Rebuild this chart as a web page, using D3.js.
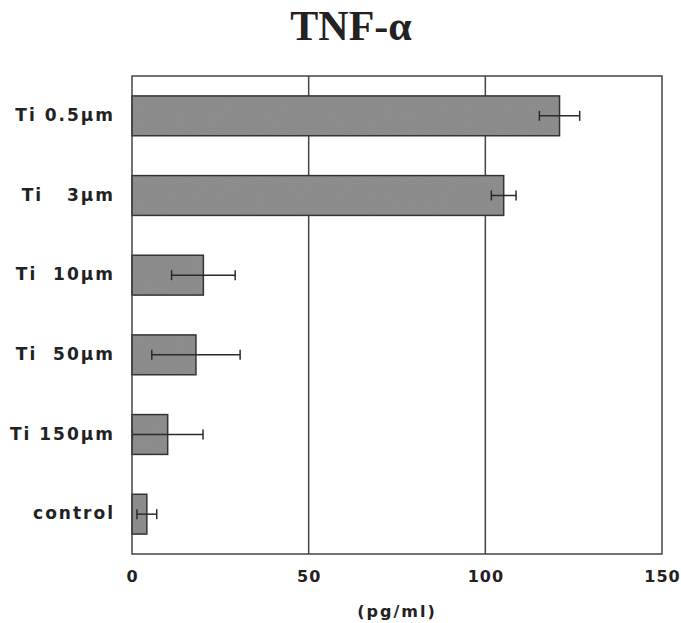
<!DOCTYPE html>
<html lang="en">

<head>
    <meta charset="utf-8">
    <title>TNF-alpha</title>
    <script type="text/javascript" src="https://cdn.jsdelivr.net/npm/d3@7"></script>
    <style>
        body { margin: 0; background: #fff; }
    </style>
</head>

<body>

    <script type="text/javascript">
        // values (pg/ml)
        var categories = ["Ti 0.5\u03bcm", "Ti   3\u03bcm", "Ti  10\u03bcm", "Ti  50\u03bcm", "Ti 150\u03bcm", "control"];
        var means = [121, 105.2, 20.2, 18.1, 10.1, 4.2];
        var errors = [5.7, 3.5, 9, 12.5, 10, 2.8];
        var ticks = [0, 50, 100, 150];

        var w = 681;
        var h = 623;
        var plotL = 132, plotR = 662, plotT = 76, plotB = 554;

        var data = categories.map(function(c, i) {
            return { cat: c, v: means[i], e: errors[i] };
        });

        var svg = d3.select("body")
            .append("svg")
            .attr("width", w)
            .attr("height", h);

        // speckled grey like the printed bars
        var defs = svg.append("defs");
        var f = defs.append("filter").attr("id", "speckle")
            .attr("x", 0).attr("y", 0).attr("width", 1).attr("height", 1);
        f.append("feTurbulence")
            .attr("type", "fractalNoise")
            .attr("baseFrequency", 0.9)
            .attr("numOctaves", 2)
            .attr("result", "noise");
        f.append("feColorMatrix")
            .attr("in", "noise")
            .attr("type", "matrix")
            .attr("values", "0 0 0 0 0.3  0 0 0 0 0.3  0 0 0 0 0.3  0.9 0 0 0 -0.3")
            .attr("result", "dots");
        f.append("feComposite")
            .attr("in", "dots")
            .attr("in2", "SourceGraphic")
            .attr("operator", "atop");

        var x = d3.scaleLinear().domain([0, 150]).range([plotL, plotR]);
        var y = d3.scaleBand().domain(categories).range([plotT, plotB])
            .paddingInner(0.5).paddingOuter(0.25);

        // title
        svg.append("text")
            .attr("x", 351)
            .attr("y", 40)
            .attr("text-anchor", "middle")
            .attr("font-family", "'Liberation Serif', 'Times New Roman', serif")
            .attr("font-weight", "bold")
            .attr("font-size", "42px")
            .attr("fill", "#222")
            .text("TNF-\u03b1");

        // vertical grid lines at 50 and 100
        svg.selectAll("line.grid")
            .data(ticks.slice(1, 3))
            .enter()
            .append("line")
            .attr("class", "grid")
            .attr("x1", function(d) { return x(d); })
            .attr("x2", function(d) { return x(d); })
            .attr("y1", plotT)
            .attr("y2", plotB)
            .attr("stroke", "#444")
            .attr("stroke-width", 1.5);

        // bars
        svg.selectAll("rect.bar")
            .data(data)
            .enter()
            .append("rect")
            .attr("class", "bar")
            .attr("x", x(0))
            .attr("y", function(d) { return y(d.cat); })
            .attr("width", function(d) { return x(d.v) - x(0); })
            .attr("height", y.bandwidth())
            .attr("fill", "#8a8a8a")
            .attr("filter", "url(#speckle)");

        svg.selectAll("rect.barline")
            .data(data)
            .enter()
            .append("rect")
            .attr("class", "barline")
            .attr("x", x(0))
            .attr("y", function(d) { return y(d.cat); })
            .attr("width", function(d) { return x(d.v) - x(0); })
            .attr("height", y.bandwidth())
            .attr("fill", "none")
            .attr("stroke", "#333")
            .attr("stroke-width", 1.5);

        // error bars
        var eb = svg.selectAll("g.err")
            .data(data)
            .enter()
            .append("g")
            .attr("class", "err")
            .attr("stroke", "#2a2a2a")
            .attr("stroke-width", 1.5);

        eb.append("line")
            .attr("x1", function(d) { return x(Math.max(0, d.v - d.e)); })
            .attr("x2", function(d) { return x(d.v + d.e); })
            .attr("y1", function(d) { return y(d.cat) + y.bandwidth() / 2; })
            .attr("y2", function(d) { return y(d.cat) + y.bandwidth() / 2; });

        eb.append("line")
            .attr("x1", function(d) { return x(Math.max(0, d.v - d.e)); })
            .attr("x2", function(d) { return x(Math.max(0, d.v - d.e)); })
            .attr("y1", function(d) { return y(d.cat) + y.bandwidth() / 2 - 5; })
            .attr("y2", function(d) { return y(d.cat) + y.bandwidth() / 2 + 5; });

        eb.append("line")
            .attr("x1", function(d) { return x(d.v + d.e); })
            .attr("x2", function(d) { return x(d.v + d.e); })
            .attr("y1", function(d) { return y(d.cat) + y.bandwidth() / 2 - 5; })
            .attr("y2", function(d) { return y(d.cat) + y.bandwidth() / 2 + 5; });

        // frame
        svg.append("rect")
            .attr("x", plotL)
            .attr("y", plotT)
            .attr("width", plotR - plotL)
            .attr("height", plotB - plotT)
            .attr("fill", "none")
            .attr("stroke", "#444")
            .attr("stroke-width", 1.5);

        // category labels
        svg.selectAll("text.cat")
            .data(categories)
            .enter()
            .append("text")
            .attr("class", "cat")
            .attr("x", 115)
            .attr("y", function(d) { return y(d) + y.bandwidth() / 2 + 5; })
            .attr("text-anchor", "end")
            .attr("font-family", "'DejaVu Sans', sans-serif")
            .attr("font-weight", "bold")
            .attr("font-size", "17px")
            .attr("letter-spacing", "2px")
            .attr("fill", "#222")
            .style("white-space", "pre")
            .text(function(d) { return d; });

        // x axis
        var xAxis = d3.axisBottom(x).tickValues(ticks).tickSize(0).tickPadding(17);
        var ax = svg.append("g")
            .attr("transform", "translate(0," + plotB + ")")
            .call(xAxis);
        ax.select(".domain").remove();
        ax.selectAll("text")
            .attr("font-family", "'DejaVu Sans', sans-serif")
            .attr("font-weight", "bold")
            .attr("font-size", "16px")
            .attr("letter-spacing", "1px")
            .attr("fill", "#222");

        svg.append("text")
            .attr("x", (plotL + plotR) / 2)
            .attr("y", 617)
            .attr("text-anchor", "middle")
            .attr("font-family", "'DejaVu Sans', sans-serif")
            .attr("font-weight", "bold")
            .attr("font-size", "16px")
            .attr("letter-spacing", "2px")
            .attr("fill", "#222")
            .text("(pg/ml)");
    </script>
</body>

</html>
